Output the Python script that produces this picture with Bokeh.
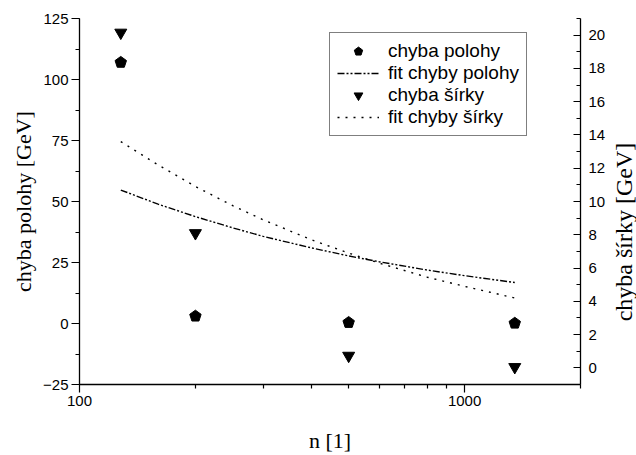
import numpy as np
from bokeh.plotting import figure
from bokeh.layouts import row
from bokeh.models import (Range1d, LinearAxis, FixedTicker, SingleIntervalTicker,
                          BasicTickFormatter, Legend, LegendItem, Div)
from bokeh.embed import file_html
from bokeh.resources import INLINE

# measured errors vs. number of events
n_vals = [128, 200, 500, 1350]
chyba_polohy = [107.0, 3.0, 0.4, 0.1]
chyba_sirky = [20.15, 8.1, 0.73, 0.05]

# fitted curves
n_fit = [128, 160, 200, 250, 300, 400, 500, 600, 800, 1000, 1350]
fit_polohy = [54.7, 48.9, 43.8, 39.2, 35.7, 31.0, 27.7, 25.3, 21.9, 19.6, 16.8]
fit_sirky = [13.6, 12.2, 10.9, 9.75, 8.9, 7.7, 6.9, 6.3, 5.45, 4.9, 4.2]

x_major = [100, 1000]
x_minor = [200, 300, 400, 500, 600, 700, 800, 900, 2000]

SANS = "Liberation Sans"
SERIF = "Liberation Serif"

p = figure(width=612, height=455, x_axis_type="log",
           x_range=Range1d(100, 2000), y_range=Range1d(-25, 125),
           output_backend="svg", toolbar_location=None,
           min_border_left=79, min_border_right=32,
           min_border_top=18, min_border_bottom=65)
p.outline_line_color = None
p.xgrid.visible = False
p.ygrid.visible = False
p.background_fill_color = "white"
p.border_fill_color = "white"

p.extra_y_ranges = {"r": Range1d(-1, 21)}

# x axis
xa = p.xaxis[0]
xa.ticker = FixedTicker(ticks=x_major, minor_ticks=x_minor)
xa.formatter = BasicTickFormatter(use_scientific=False)
xa.axis_label = "n [1]"

# left axis
ya = p.yaxis[0]
ya.ticker = SingleIntervalTicker(interval=25, num_minor_ticks=2)
ya.axis_label = "chyba polohy [GeV]"

# right axis (its title is drawn alongside, reading bottom-to-top)
ra = LinearAxis(y_range_name="r",
                ticker=SingleIntervalTicker(interval=2, num_minor_ticks=2))
p.add_layout(ra, "right")

for ax in (xa, ya):
    ax.major_tick_out = 8
    ax.major_tick_in = 0
    ax.minor_tick_out = 4
    ax.minor_tick_in = 0
ra.major_tick_in = 7
ra.major_tick_out = 0
ra.minor_tick_in = 4
ra.minor_tick_out = 0

for ax in (xa, ya, ra):
    ax.axis_line_color = "black"
    ax.axis_line_width = 1.3
    ax.major_tick_line_color = "black"
    ax.minor_tick_line_color = "black"
    ax.major_tick_line_width = 1.2
    ax.minor_tick_line_width = 1.2
    ax.major_label_text_font = SANS
    ax.major_label_text_font_size = "15px"
    ax.major_label_text_color = "black"
    ax.axis_label_text_font = SERIF
    ax.axis_label_text_font_size = "22px"
    ax.axis_label_text_font_style = "normal"
    ax.axis_label_text_color = "black"
    ax.major_label_standoff = 3
    ax.axis_label_standoff = 8
ya.axis_label_standoff = 4
ra.major_label_standoff = 8
xa.axis_label_standoff = 19

# fit curves
r_fit_p = p.line(n_fit, fit_polohy, line_color="black", line_width=1.4,
                 line_dash="7 2 2 2 2 2")
r_fit_s = p.line(n_fit, fit_sirky, y_range_name="r", line_color="black",
                 line_width=1.4, line_dash="2 6")

# data points
r_pol = p.ngon(x=n_vals, y=chyba_polohy, radius=6, radius_units="screen", n=5,
               angle=0, fill_color="black", line_color="black")
r_sir = p.scatter(n_vals, chyba_sirky, y_range_name="r", marker="inverted_triangle",
                  size=12, fill_color="black", line_color="black")

legend = Legend(items=[
    LegendItem(label="chyba polohy", renderers=[r_pol]),
    LegendItem(label="fit chyby polohy", renderers=[r_fit_p]),
    LegendItem(label="chyba šírky", renderers=[r_sir]),
    LegendItem(label="fit chyby šírky", renderers=[r_fit_s]),
], location=(250, 248))
legend.label_text_font = SANS
legend.label_text_font_size = "19px"
legend.label_text_color = "black"
legend.border_line_color = "black"
legend.border_line_width = 1.2
legend.background_fill_alpha = 1.0
legend.glyph_width = 42
legend.glyph_height = 22
legend.label_height = 22
legend.label_standoff = 9
legend.spacing = 0
legend.padding = 7
legend.margin = 0
p.add_layout(legend, "center")

# right-hand axis title
right_title = Div(
    text=('<span style="position:absolute; left:12px; top:232px; '
          'transform:translate(-50%,-50%) rotate(-90deg); white-space:nowrap; '
          "font-family:'Liberation Serif'; font-size:24px; color:black; "
          'line-height:1;">chyba šírky [GeV]</span>'),
    width=24, height=455,
    styles={"position": "relative", "background": "white", "overflow": "visible",
            "margin": "0", "padding": "0"})

layout = row(p, right_title, spacing=0)
open("out.html", "w").write(file_html(layout, INLINE))
